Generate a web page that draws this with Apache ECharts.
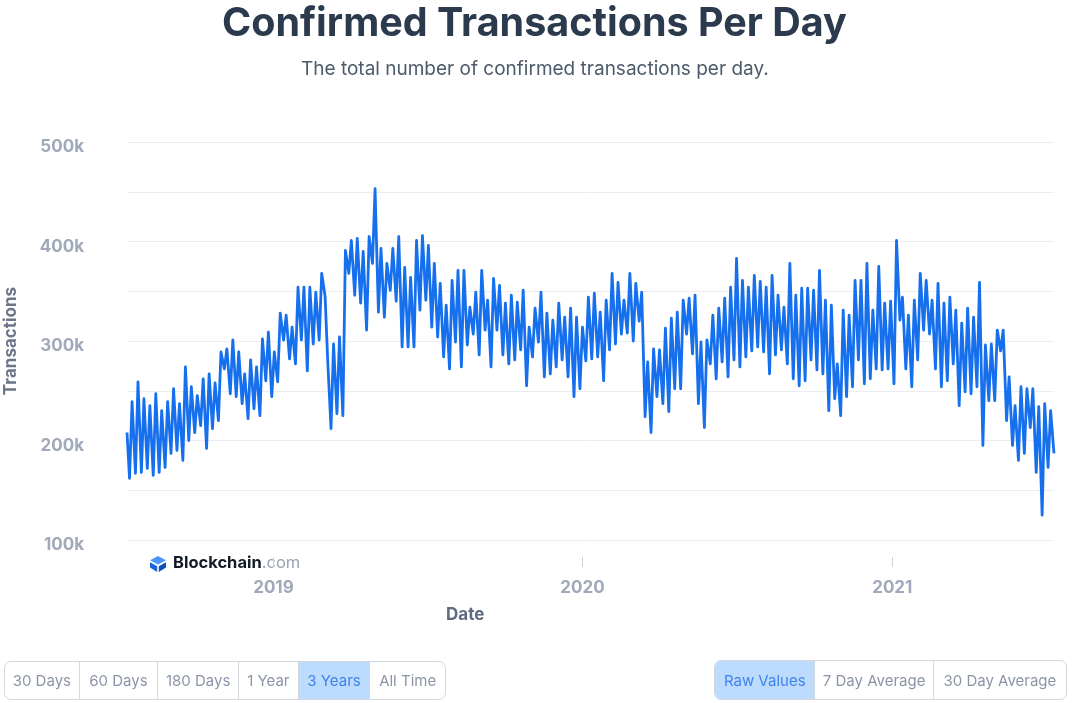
<!DOCTYPE html>
<html>
<head>
<meta charset="utf-8">
<script src="https://cdn.jsdelivr.net/npm/echarts@6/dist/echarts.min.js"></script>
<style>
  html, body { margin: 0; padding: 0; background: #ffffff; }
  #wrap { position: relative; width: 1075px; height: 703px; overflow: hidden; font-family: Inter, "Noto Sans", sans-serif; }
  #chart { position: absolute; left: 0; top: 0; width: 1075px; height: 703px; }
  .group { position: absolute; display: flex; border: 1px solid #d3d8e0; border-radius: 7px; overflow: hidden; background: #fff; box-sizing: border-box; }
  .btn { box-sizing: border-box; height: 100%; display: flex; align-items: center; justify-content: center; font-size: 15px; color: #8c95a7; border-right: 1px solid #d3d8e0; white-space: nowrap; }
  .btn:last-child { border-right: none; }
  .btn.on { background: #bcdbfd; color: #3f84ee; }
</style>
</head>
<body>
<div id="wrap">
  <div id="chart"></div>
  <div class="group" style="left:4px; top:661px; width:442px; height:39px;">
    <div class="btn" style="width:75px">30 Days</div>
    <div class="btn" style="width:79px">60 Days</div>
    <div class="btn" style="width:81px">180 Days</div>
    <div class="btn" style="width:60px">1 Year</div>
    <div class="btn on" style="width:72px">3 Years</div>
    <div class="btn" style="width:75px">All Time</div>
  </div>
  <div class="group" style="left:714px; top:660px; width:353px; height:40px;">
    <div class="btn on" style="width:101px">Raw Values</div>
    <div class="btn" style="width:119px">7 Day Average</div>
    <div class="btn" style="width:133px">30 Day Average</div>
  </div>
</div>
<script>
// Values in thousands of transactions.
// First day of the window (2018-07-12)
const firstValue = 208;
// Weekly weekend lows (Sundays, starting 2018-07-15)
const weeklyLows = [
  162,167,168,172,165,168,173,187,190,180,
  200,208,215,192,212,220,272,247,244,237,
  222,232,225,260,244,259,301,282,277,301,
  270,297,301,345,212,227,225,368,346,338,
  311,378,329,324,351,340,294,294,294,331,
  341,314,304,284,272,299,274,296,307,286,
  311,274,311,286,277,281,291,255,284,299,
  264,267,274,281,264,244,252,280,282,284,
  260,291,297,307,308,300,320,224,208,244,
  237,229,252,252,307,287,237,213,277,262,
  279,264,281,274,284,290,294,289,267,286,
  291,277,262,255,260,281,271,267,230,242,
  225,244,254,281,257,262,272,271,272,257,
  321,272,254,281,311,307,272,254,260,277,
  235,249,247,254,195,240,240,290,220,195,
  180,187,213,168,125,173,187
];
// Weekly midweek highs (Wednesdays, starting 2018-07-18)
const weeklyPeaks = [
  239,259,242,235,247,230,239,252,237,274,
  254,245,262,267,258,289,292,301,289,267,
  281,274,302,309,289,328,326,314,354,354,
  354,349,368,282,297,304,391,401,403,390,
  405,453,393,378,393,405,374,364,401,406,
  396,378,358,336,361,371,371,334,349,371,
  341,363,356,338,346,339,351,314,333,349,
  328,321,338,324,333,324,314,344,348,329,
  341,368,359,341,368,358,349,279,292,291,
  313,323,329,341,343,346,299,301,326,333,
  343,354,383,361,354,366,360,354,366,346,
  334,378,346,353,353,351,371,341,336,277,
  331,326,361,361,378,331,375,338,340,401,
  344,326,341,368,361,341,358,338,344,331,
  318,333,324,359,296,297,311,311,264,235,
  254,252,252,234,237,230
];
const yearTicks = [2019, 2020, 2021];
const yTicks = [100, 200, 300, 400, 500];

const seriesData = [[new Date(2018, 6, 12).getTime(), firstValue]];
for (let k = 0; k < weeklyLows.length; k++) {
  seriesData.push([new Date(2018, 6, 15 + 7 * k).getTime(), weeklyLows[k]]);
  if (k < weeklyPeaks.length) {
    seriesData.push([new Date(2018, 6, 18 + 7 * k).getTime(), weeklyPeaks[k]]);
  }
}
const yearValues = yearTicks.map(y => new Date(y, 0, 1).getTime());

const chart = echarts.init(document.getElementById('chart'), null, { renderer: 'canvas' });
const FONT = 'Inter, "Noto Sans", sans-serif';
chart.setOption({
  animation: false,
  backgroundColor: '#ffffff',
  textStyle: { fontFamily: FONT },
  title: [
    { text: 'Confirmed Transactions Per Day', left: 217, top: -4,
      textStyle: { fontSize: 39.5, fontWeight: 'bold', color: '#2c3a4d', fontFamily: FONT, lineHeight: 46 } },
    { text: 'The total number of confirmed transactions per day.', left: 296, top: 52,
      textStyle: { fontSize: 19, fontWeight: 'normal', color: '#4d5a6c', fontFamily: FONT, lineHeight: 24 } }
  ],
  grid: { left: 127, right: 21, top: 142, bottom: 163, outerBoundsMode: 'none' },
  xAxis: {
    type: 'value',
    min: new Date(2018, 6, 12).getTime(),
    max: new Date(2021, 6, 11).getTime(),
    offset: 17,
    axisLine: { show: false },
    axisTick: { show: true, length: 10, lineStyle: { color: '#ccd3df', width: 1 }, customValues: yearValues },
    axisLabel: { customValues: yearValues, margin: 22, fontSize: 17, fontWeight: 'bold', color: '#a0a9ba', fontFamily: FONT,
      formatter: v => String(new Date(v).getFullYear()) },
    splitLine: { show: false }
  },
  yAxis: {
    type: 'value', min: 100, max: 500, interval: 50,
    axisLine: { show: false }, axisTick: { show: false },
    axisLabel: { margin: 43, fontSize: 17, fontWeight: 'bold', color: '#a0a9ba', fontFamily: FONT,
      formatter: v => (yTicks.indexOf(v) >= 0 ? '{a|' + v + 'k}' : ''),
      rich: { a: { fontSize: 17, fontWeight: 'bold', color: '#a0a9ba', fontFamily: FONT, padding: [10, 0, 0, 0] } } },
    splitLine: { show: true, lineStyle: { color: '#ebedf1', width: 1 } },
    name: 'Transactions', nameLocation: 'middle', nameGap: 108, nameRotate: 90,
    nameTextStyle: { fontSize: 17, fontWeight: 'bold', color: '#6b7689', fontFamily: FONT }
  },
  series: [{
    type: 'line', data: seriesData, showSymbol: false, symbol: 'none',
    lineStyle: { color: '#1670ee', width: 2.8, join: 'round' },
    z: 3
  }],
  graphic: [
    { type: 'text', left: 446, top: 606, style: {
      text: 'Date', fontSize: 17, fontWeight: 'bold', fill: '#5e6a7d', fontFamily: FONT } },
    { type: 'group', left: 150, top: 556, children: [
      { type: 'polygon', shape: { points: [[8,0],[16,4.3],[8,8.6],[0,4.3]] }, style: { fill: '#4a94fb' } },
      { type: 'polygon', shape: { points: [[0,6.2],[7.2,10.3],[7.2,16],[0,11.6]] }, style: { fill: '#1a62d6' } },
      { type: 'polygon', shape: { points: [[16,6.2],[8.8,10.3],[8.8,16],[16,11.6]] }, style: { fill: '#0f4fba' } }
    ]},
    { type: 'text', left: 173, top: 555, style: {
      text: '{a|Blockchain}{b|.com}',
      rich: {
        a: { fontSize: 16.5, fontWeight: 'bold', fill: '#121a26', fontFamily: FONT },
        b: { fontSize: 16.5, fontWeight: 'normal', fill: '#9aa3b3', fontFamily: FONT }
      }
    }}
  ]
});
</script>
</body>
</html>
